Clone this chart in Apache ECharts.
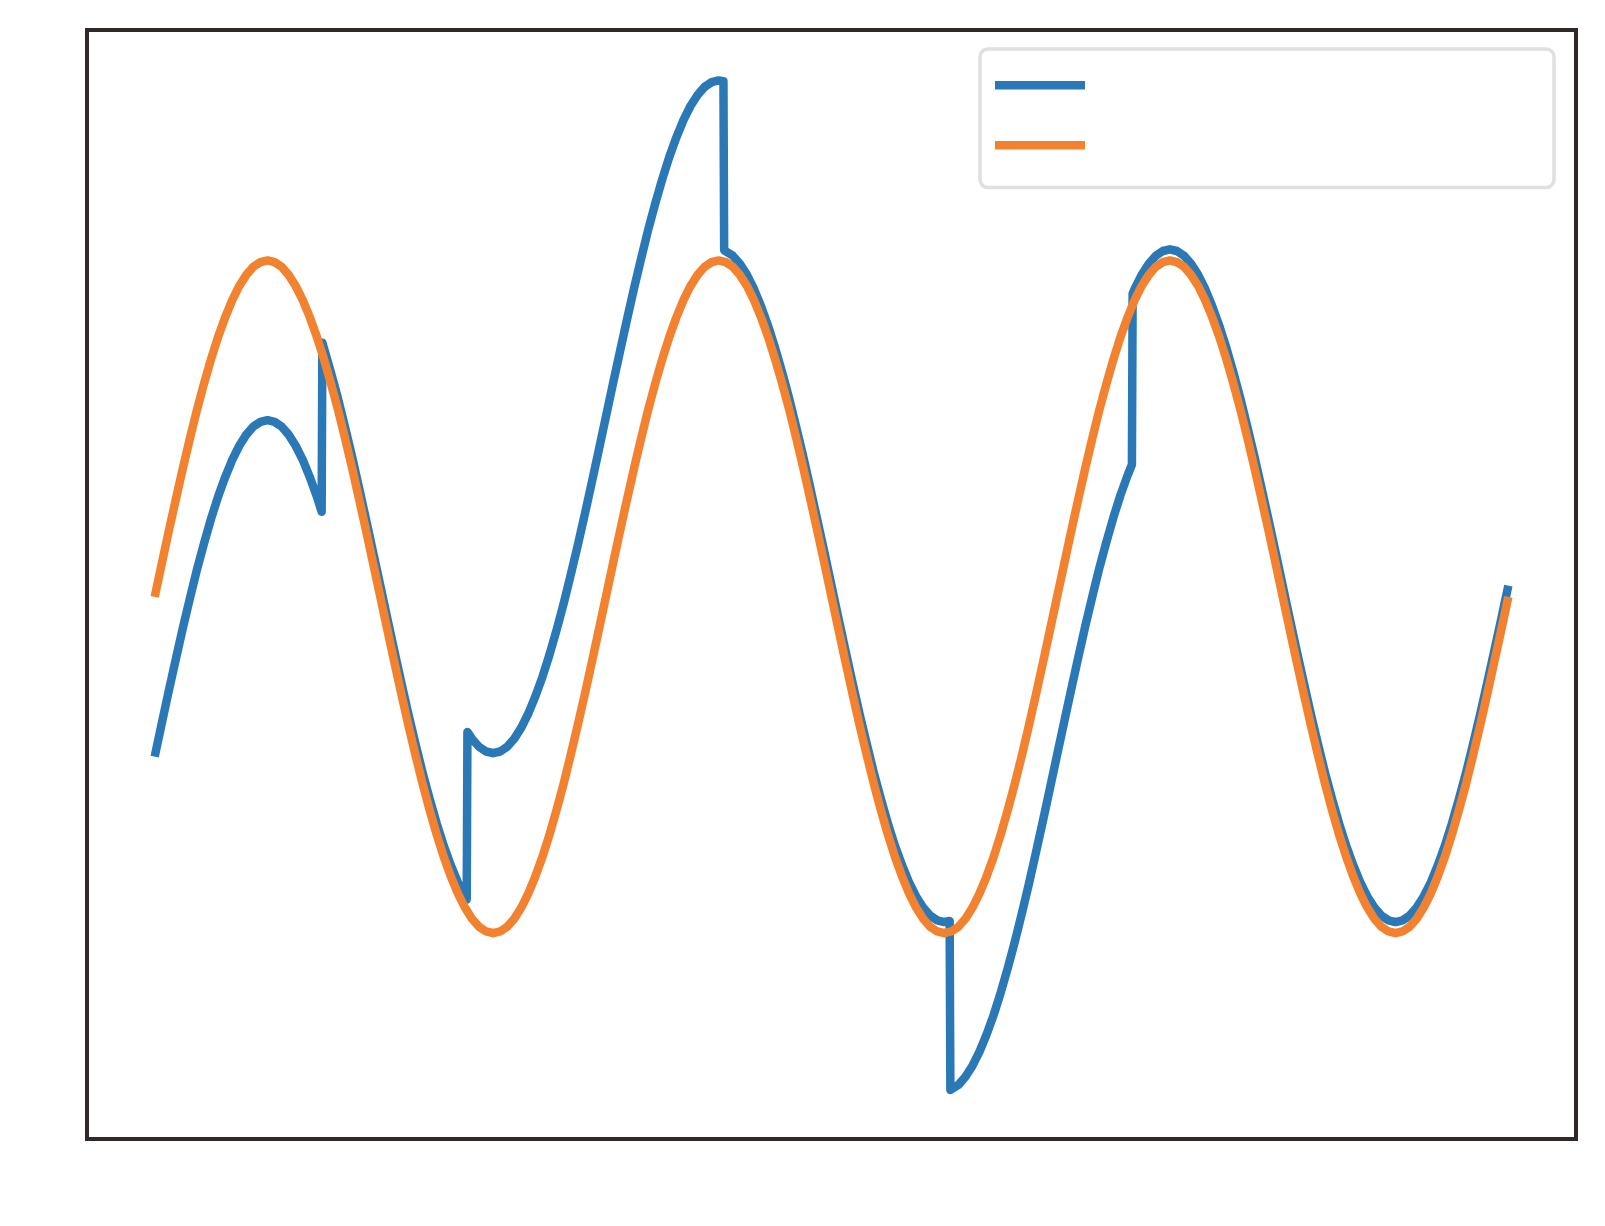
<!DOCTYPE html>
<html>
<head>
<meta charset="utf-8">
<script src="https://cdn.jsdelivr.net/npm/echarts@6/dist/echarts.min.js"></script>
<style>
html,body{margin:0;padding:0;background:#fff;}
#chart{width:1605px;height:1226px;}
</style>
</head>
<body>
<div id="chart"></div>
<script>
// sample positions (radians), 0 .. 6*pi
const T = [0,0.098,0.196,0.295,0.393,0.491,0.589,0.687,0.785,0.884,
0.982,1.080,1.178,1.276,1.374,1.473,1.571,1.669,1.767,1.865,
1.963,2.062,2.160,2.258,2.356,2.454,2.553,2.651,2.749,2.847,
2.945,3.043,3.142,3.240,3.338,3.436,3.534,3.632,3.731,3.829,
3.927,4.025,4.123,4.222,4.320,4.418,4.516,4.614,4.712,4.811,
4.909,5.007,5.105,5.203,5.301,5.400,5.498,5.596,5.694,5.792,
5.890,5.989,6.087,6.185,6.283,6.381,6.480,6.578,6.676,6.774,
6.872,6.970,7.069,7.167,7.265,7.363,7.461,7.560,7.658,7.756,
7.854,7.952,8.050,8.149,8.247,8.345,8.443,8.541,8.639,8.738,
8.836,8.934,9.032,9.130,9.228,9.327,9.425,9.523,9.621,9.719,
9.817,9.916,10.014,10.112,10.210,10.308,10.407,10.505,10.603,10.701,
10.799,10.897,10.996,11.094,11.192,11.290,11.388,11.486,11.585,11.683,
11.781,11.879,11.977,12.076,12.174,12.272,12.370,12.468,12.566,12.665,
12.763,12.861,12.959,13.057,13.155,13.254,13.352,13.450,13.548,13.646,
13.744,13.843,13.941,14.039,14.137,14.235,14.334,14.432,14.530,14.628,
14.726,14.824,14.923,15.021,15.119,15.217,15.315,15.413,15.512,15.610,
15.708,15.806,15.904,16.003,16.101,16.199,16.297,16.395,16.493,16.592,
16.690,16.788,16.886,16.984,17.082,17.181,17.279,17.377,17.475,17.573,
17.671,17.770,17.868,17.966,18.064,18.162,18.261,18.359,18.457,18.555,
18.653,18.752,18.850];

// orange series values
const orangeY = [
0,0.098,0.195,0.290,0.383,0.471,0.556,0.634,0.707,0.773,0.831,0.882,0.924,0.957,0.981,0.995,1,0.995,0.981,0.957,0.924,0.882,0.831,0.773,0.707,0.634,0.556,0.471,0.383,0.290,0.195,0.098,
0,-0.098,-0.195,-0.290,-0.383,-0.471,-0.556,-0.634,-0.707,-0.773,-0.831,-0.882,-0.924,-0.957,-0.981,-0.995,-1,-0.995,-0.981,-0.957,-0.924,-0.882,-0.831,-0.773,-0.707,-0.634,-0.556,-0.471,-0.383,-0.290,-0.195,-0.098,
0,0.098,0.195,0.290,0.383,0.471,0.556,0.634,0.707,0.773,0.831,0.882,0.924,0.957,0.981,0.995,1,0.995,0.981,0.957,0.924,0.882,0.831,0.773,0.707,0.634,0.556,0.471,0.383,0.290,0.195,0.098,
0,-0.098,-0.195,-0.290,-0.383,-0.471,-0.556,-0.634,-0.707,-0.773,-0.831,-0.882,-0.924,-0.957,-0.981,-0.995,-1,-0.995,-0.981,-0.957,-0.924,-0.882,-0.831,-0.773,-0.707,-0.634,-0.556,-0.471,-0.383,-0.290,-0.195,-0.098,
0,0.098,0.195,0.290,0.383,0.471,0.556,0.634,0.707,0.773,0.831,0.882,0.924,0.957,0.981,0.995,1,0.995,0.981,0.957,0.924,0.882,0.831,0.773,0.707,0.634,0.556,0.471,0.383,0.290,0.195,0.098,
0,-0.098,-0.195,-0.290,-0.383,-0.471,-0.556,-0.634,-0.707,-0.773,-0.831,-0.882,-0.924,-0.957,-0.981,-0.995,-1,-0.995,-0.981,-0.957,-0.924,-0.882,-0.831,-0.773,-0.707,-0.634,-0.556,-0.471,-0.383,-0.290,-0.195,-0.098,
0];

// blue series: positions and values (including its five jumps)
const blueX = [
0,0.098,0.196,0.295,0.393,0.491,0.589,0.687,0.785,0.884,0.982,1.080,1.178,1.276,1.374,1.473,1.571,1.669,1.767,1.865,1.963,2.062,2.160,2.258,2.325,
2.335,2.356,2.454,2.553,2.651,2.749,2.847,2.945,3.043,3.142,3.240,3.338,3.436,3.534,3.632,3.731,3.829,3.927,4.025,4.123,4.222,4.320,4.345,
4.355,4.418,4.516,4.614,4.712,4.811,4.909,5.007,5.105,5.203,5.301,5.400,5.498,5.596,5.694,5.792,5.890,5.989,6.087,6.185,6.283,6.381,6.480,6.578,6.676,6.774,6.872,6.970,7.069,7.167,7.265,7.363,7.461,7.560,7.658,7.756,7.854,7.920,
7.930,7.952,8.050,8.149,8.247,8.345,8.443,8.541,8.639,8.738,8.836,8.934,9.032,9.130,9.228,9.327,9.425,9.523,9.621,9.719,9.817,9.916,10.014,10.112,10.210,10.308,10.407,10.505,10.603,10.701,10.799,10.897,10.996,11.070,
11.080,11.094,11.192,11.290,11.388,11.486,11.585,11.683,11.781,11.879,11.977,12.076,12.174,12.272,12.370,12.468,12.566,12.665,12.763,12.861,12.959,13.057,13.155,13.254,13.352,13.450,13.548,13.608,
13.618,13.646,13.744,13.843,13.941,14.039,14.137,14.235,14.334,14.432,14.530,14.628,14.726,14.824,14.923,15.021,15.119,15.217,15.315,15.413,15.512,15.610,15.708,15.806,15.904,16.003,16.101,16.199,16.297,16.395,16.493,16.592,16.690,16.788,16.886,16.984,17.082,17.181,17.279,17.377,17.475,17.573,17.671,17.770,17.868,17.966,18.064,18.162,18.261,18.359,18.457,18.555,18.653,18.752,18.850];

const blueY = [
-0.475,-0.377,-0.280,-0.185,-0.092,-0.004,0.081,0.159,0.232,0.298,0.356,0.407,0.449,0.482,0.506,0.520,0.525,0.520,0.506,0.482,0.449,0.407,0.356,0.298,0.253,
0.755,0.740,0.667,0.589,0.504,0.416,0.323,0.228,0.131,0.033,-0.065,-0.162,-0.257,-0.350,-0.438,-0.523,-0.601,-0.674,-0.740,-0.798,-0.849,-0.891,-0.900,
-0.402,-0.422,-0.446,-0.460,-0.465,-0.460,-0.446,-0.422,-0.389,-0.347,-0.296,-0.238,-0.172,-0.099,-0.021,0.064,0.152,0.245,0.340,0.437,0.535,0.633,0.730,0.825,0.918,1.006,1.091,1.169,1.242,1.308,1.366,1.417,1.459,1.492,1.516,1.530,1.535,1.533,
1.030,1.028,1.014,0.990,0.957,0.915,0.864,0.806,0.740,0.667,0.589,0.504,0.416,0.323,0.228,0.131,0.033,-0.065,-0.162,-0.257,-0.350,-0.438,-0.523,-0.601,-0.674,-0.740,-0.798,-0.849,-0.891,-0.924,-0.948,-0.962,-0.967,-0.964,
-1.466,-1.465,-1.451,-1.427,-1.394,-1.352,-1.301,-1.243,-1.177,-1.104,-1.026,-0.941,-0.853,-0.760,-0.665,-0.568,-0.470,-0.372,-0.275,-0.180,-0.087,0.001,0.086,0.164,0.237,0.303,0.361,0.393,
0.901,0.915,0.957,0.990,1.014,1.028,1.033,1.028,1.014,0.990,0.957,0.915,0.864,0.806,0.740,0.667,0.589,0.504,0.416,0.323,0.228,0.131,0.033,-0.065,-0.162,-0.257,-0.350,-0.438,-0.523,-0.601,-0.674,-0.740,-0.798,-0.849,-0.891,-0.924,-0.948,-0.962,-0.967,-0.962,-0.948,-0.924,-0.891,-0.849,-0.798,-0.740,-0.674,-0.601,-0.523,-0.438,-0.350,-0.257,-0.162,-0.065,0.033];

const seriesNames = ['blue', 'orange'];
const BLUE = '#2a79b6', ORANGE = '#f2822f', LW = 8.5;

const pair = (xs, ys) => {
  const n = Math.min(xs.length, ys.length);
  const out = [];
  for (let i = 0; i < n; i++) out.push([xs[i], ys[i]]);
  return out;
};

const chart = echarts.init(document.getElementById('chart'), null, {renderer: 'canvas'});
chart.setOption({
  animation: false,
  backgroundColor: '#ffffff',
  grid: {
    left: 87, top: 30, right: 29, bottom: 87,
    show: true, borderColor: '#2f2a28', borderWidth: 4, backgroundColor: '#ffffff'
  },
  xAxis: {
    type: 'value', min: -0.9425, max: 19.792,
    axisLine: {show: false}, axisTick: {show: false}, axisLabel: {show: false}, splitLine: {show: false}
  },
  yAxis: {
    type: 'value', min: -1.612, max: 1.685,
    axisLine: {show: false}, axisTick: {show: false}, axisLabel: {show: false}, splitLine: {show: false}
  },
  legend: {
    orient: 'vertical',
    left: 980, top: 49,
    padding: [32, 469, 38, 15],
    itemWidth: 90, itemHeight: 8.5, itemGap: 51.5,
    icon: 'rect',
    formatter: () => '',
    textStyle: {fontSize: 5},
    backgroundColor: '#ffffff',
    borderColor: '#e0e0e0', borderWidth: 3.5, borderRadius: 8,
    selectedMode: false,
    data: seriesNames
  },
  series: [
    {
      name: seriesNames[0], type: 'line', data: pair(blueX, blueY),
      showSymbol: false, symbol: 'none', z: 2,
      itemStyle: {color: BLUE},
      lineStyle: {color: BLUE, width: LW, join: 'round', cap: 'butt'}
    },
    {
      name: seriesNames[1], type: 'line', data: pair(T, orangeY),
      showSymbol: false, symbol: 'none', z: 3,
      itemStyle: {color: ORANGE},
      lineStyle: {color: ORANGE, width: LW, join: 'round', cap: 'butt'}
    }
  ]
});
</script>
</body>
</html>
